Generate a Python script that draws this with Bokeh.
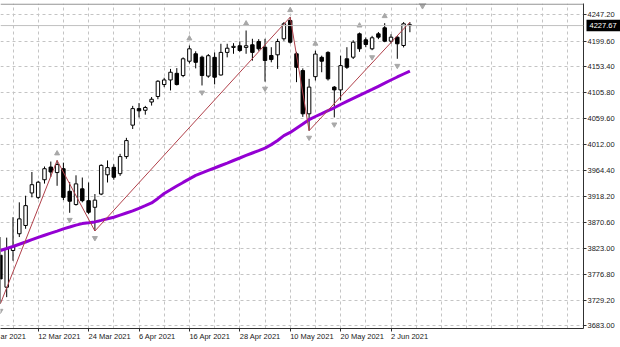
from bokeh.plotting import figure
from bokeh.models import Range1d, FixedTicker, Span, LinearAxis, PrintfTickFormatter
from bokeh.embed import file_html
from bokeh.resources import INLINE

# ---- data ----
opens = [3811, 3753, 3819.6, 3850, 3865, 3924, 3916, 3948, 3971, 3961, 3968, 3927, 3903, 3931.5, 3910, 3898,
         3922, 3957, 3970.5, 3959, 3990, 4047, 4077, 4074, 4089, 4099, 4120.7, 4129, 4141, 4137, 4163, 4176.5,
         4170.3, 4136, 4170, 4138, 4179, 4188, 4191, 4188, 4192.8, 4198.8, 4188.4, 4173.4, 4174.6, 4203.7, 4236.9,
         4176.5, 4146, 4067.6, 4135, 4170, 4179, 4116, 4111, 4167.4, 4170.3, 4212.7, 4201.8, 4185.5, 4212.7,
         4223.6, 4199.3, 4206.6, 4191.5, 4229]
highs = [3844, 3843, 3880, 3907, 3919, 3962, 3946, 3972, 3981, 3983, 3979, 3944, 3956, 3952, 3943, 3922,
         3976, 3983, 3976, 3995, 4024, 4082, 4087, 4082, 4098, 4128.5, 4133, 4149, 4150.5, 4170, 4191.5, 4181,
         4173, 4176, 4179, 4194.6, 4194.6, 4195.7, 4199, 4218.7, 4203.7, 4203, 4203.7, 4188.4, 4203.7, 4234, 4242.9,
         4180, 4150, 4131, 4182, 4173, 4181, 4118, 4173, 4188.4, 4201, 4215, 4206, 4209, 4216,
         4232, 4212, 4208, 4234, 4233.8]
lows = [3723, 3735, 3801, 3844, 3859, 3916, 3913, 3941, 3953, 3937, 3911, 3888, 3901, 3907, 3886, 3855,
        3920, 3943, 3948, 3955, 3986, 4040, 4061, 4066, 4082.5, 4094, 4116, 4110, 4119, 4134, 4159, 4150,
        4119, 4133, 4121, 4137, 4170, 4176.5, 4180, 4176.5, 4164, 4182, 4126, 4161, 4149, 4200, 4195,
        4125, 4062, 4037, 4128, 4143, 4128, 4061, 4092, 4149, 4167, 4180, 4188.4, 4183, 4203,
        4197.5, 4195, 4167.4, 4188, 4215.6]
closes = [3768, 3823, 3826.9, 3877, 3901, 3939, 3943.5, 3968, 3962, 3975.5, 3916, 3909, 3940.5, 3910, 3889, 3911,
          3974, 3970, 3952.5, 3990, 4019, 4077, 4073, 4079, 4094, 4126.7, 4129, 4143, 4120.7, 4167.4, 4185.5, 4161,
          4137, 4173, 4134, 4179, 4186.6, 4190, 4182.4, 4191, 4179, 4185.5, 4164.3, 4166, 4198.8, 4230.9, 4197.5,
          4152, 4067.6, 4116, 4176, 4163, 4131, 4111, 4155, 4152, 4197.5, 4185.5, 4193.3, 4205.5, 4206.6,
          4199.3, 4206.6, 4194.6, 4230.9, 4227.67]
ma = [3819.6, 3823.2, 3826.9, 3831.0, 3835.0, 3839.2, 3843.4, 3847.2, 3851.0, 3854.8, 3858.8, 3862.2, 3865.7,
      3868.4, 3869.9, 3871.5, 3874.2, 3877.1, 3880.0, 3883.8, 3887.6, 3891.4, 3896.2, 3900.9, 3905.8, 3914.1,
      3923.0, 3929.7, 3936.6, 3943.1, 3949.5, 3955.8, 3960.4, 3964.9, 3969.3, 3973.8, 3978.3, 3982.9, 3987.4,
      3992.0, 3996.5, 4000.9, 4005.4, 4011.7, 4019.1, 4027.9, 4033.9, 4041.5, 4049.1, 4056.9, 4062.7, 4067.9,
      4073.2, 4078.5, 4084.5, 4090.1, 4095.7, 4101.2, 4106.4, 4111.9, 4117.5, 4123.1, 4128.9, 4134.4, 4139.8,
      4145.2]
zz_idx = [0, 9, 15, 46, 49, 65]
zz_val = [3723, 3983, 3855, 4242.9, 4037, 4233.8]
frac_up = [9, 30, 39, 46, 50, 57, 61]
frac_dn = [0, 11, 15, 32, 42, 49, 53, 59, 63]
y_ticks = [4247.20, 4199.60, 4153.40, 4105.80, 4059.60, 4012.00, 3964.40, 3918.20, 3870.60, 3823.00,
           3776.80, 3729.20, 3683.00]
x_tick_idx = [-2, 6, 14, 22, 30, 38, 46, 54, 62]
# the first date label is cut by the left edge in the reference; only its tail is visible
x_tick_labels = ["ar 2021", "12 Mar 2021", "24 Mar 2021", "6 Apr 2021", "16 Apr 2021", "28 Apr 2021",
                 "10 May 2021", "20 May 2021", "2 Jun 2021"]
current_price = 4227.67

n = len(opens)
assert all(len(a) == n for a in (highs, lows, closes, ma))
idx = list(range(n))

# ---- scales (styling) ----
PX = 1.8141            # price per pixel
BAR = 6.3              # pixels per bar
W, H = 620, 347
LEFT, RIGHT, TOP, BOTTOM = 0, 37, 3, 19
frame_w = W - LEFT - RIGHT
frame_h = H - TOP - BOTTOM
x0 = 0.1 / BAR
x1 = x0 + frame_w / BAR
y_top = 4247.2 + (14.3 - TOP) * PX
y_bot = y_top - frame_h * PX

FONT = "Liberation Sans"
FSIZE = 7.5
TXT = "#202020"
AXC = "#303030"

# approximate Arial/Liberation advance widths (per 1000 em)
CW = {" ": 278, ".": 278, "M": 833, "a": 556, "r": 333, "A": 667, "p": 556, "y": 500, "J": 500, "u": 556,
      "n": 556}
def text_px(s):
    return sum(CW.get(ch, 556) for ch in s) * FSIZE / 1000.0

p = figure(width=W, height=H, x_range=Range1d(x0, x1), y_range=Range1d(y_bot, y_top),
           output_backend="svg", toolbar_location=None, y_axis_location="right",
           min_border_left=LEFT, min_border_right=RIGHT, min_border_top=TOP, min_border_bottom=BOTTOM)
p.outline_line_color = None
p.background_fill_color = "white"
p.border_fill_color = "white"

main_x = p.below[0]
main_y = p.right[0]

# grid
p.xgrid.ticker = FixedTicker(ticks=list(range(2, int(x1) + 1, 4)))
p.ygrid.ticker = FixedTicker(ticks=y_ticks)
for g in (p.xgrid, p.ygrid):
    g.grid_line_color = "#c4c4c4"
    g.grid_line_dash = "3 3"
    g.grid_line_width = 1

# price axis
main_y.ticker = FixedTicker(ticks=y_ticks)
main_y.formatter = PrintfTickFormatter(format="%.2f")
main_y.major_tick_out = 3
main_y.major_label_standoff = 1

# date axis: label text starts at its bar (MT4 style) -> label anchor shifted by half the text width;
# the tick marks themselves sit on the bars (minor ticks)
shifted = [max(i, x0) + text_px(s) / 2.0 / BAR for i, s in zip(x_tick_idx, x_tick_labels)]
main_x.ticker = FixedTicker(ticks=shifted, minor_ticks=x_tick_idx)
main_x.major_label_overrides = {t: s for t, s in zip(shifted, x_tick_labels)}
main_x.major_tick_line_color = None
main_x.major_tick_out = 3
main_x.minor_tick_out = 3
main_x.minor_tick_in = 0
main_x.minor_tick_line_color = AXC
main_x.major_label_standoff = 0

for ax in (main_x, main_y):
    ax.axis_line_color = AXC
    ax.major_tick_in = 0
    ax.major_label_text_font = FONT
    ax.major_label_text_font_size = f"{FSIZE}px"
    ax.major_label_text_color = TXT
main_y.major_tick_line_color = AXC
main_y.minor_tick_line_color = None

# current price tag: an outer price axis with one tick, pulled back over the scale;
# its (thick, black) tick forms the tag box and its label is drawn in white on it
main_w = 3 + 1 + text_px("4247.20")
tag_in = int(round(main_w))
tag_out = 4
tag_axis = LinearAxis(ticker=FixedTicker(ticks=[current_price]),
                      formatter=PrintfTickFormatter(format="%.2f"),
                      axis_line_color=None, minor_tick_line_color=None,
                      major_tick_line_color="black", major_tick_line_width=11.5, major_tick_line_cap="butt",
                      major_tick_in=tag_in, major_tick_out=tag_out,
                      major_label_standoff=-(tag_in + tag_out) + 3,
                      major_label_text_font=FONT, major_label_text_font_size=f"{FSIZE}px",
                      major_label_text_color="white")
p.add_layout(tag_axis, "right")

# top frame line & current price line
p.add_layout(Span(location=y_top - 0.6 * PX, dimension="width", line_color="#7a7a7a", line_width=1))
p.add_layout(Span(location=current_price, dimension="width", line_color="#c0c0c0", line_width=1))

# candles
up = [i for i in idx if closes[i] >= opens[i]]
dn = [i for i in idx if closes[i] < opens[i]]
p.segment(x0=idx, y0=lows, x1=idx, y1=highs, line_color="black", line_width=1)
p.vbar(x=up, top=[closes[i] for i in up], bottom=[opens[i] for i in up], width=0.55,
       fill_color="white", line_color="black", line_width=1)
p.vbar(x=dn, top=[opens[i] for i in dn], bottom=[closes[i] for i in dn], width=0.55,
       fill_color="black", line_color="black", line_width=1)

# moving average & zigzag
p.line(idx, ma, line_color="#9400D3", line_width=3)
p.line(zz_idx, zz_val, line_color="#b0404a", line_width=1)

# fractals
p.scatter(frac_up, [highs[i] + 7 * PX for i in frac_up], marker="triangle", size=5,
          fill_color="#a8a8a8", line_color="#a8a8a8")
p.scatter(frac_dn, [lows[i] - 7 * PX for i in frac_dn], marker="inverted_triangle", size=5,
          fill_color="#a8a8a8", line_color="#a8a8a8")

# chart-shift marker
p.scatter([n + 1], [y_top - 1.5 * PX], marker="inverted_triangle", size=7, fill_color="#a8a8a8",
          line_color="#a8a8a8")

open("out.html", "w").write(file_html(p, INLINE))
